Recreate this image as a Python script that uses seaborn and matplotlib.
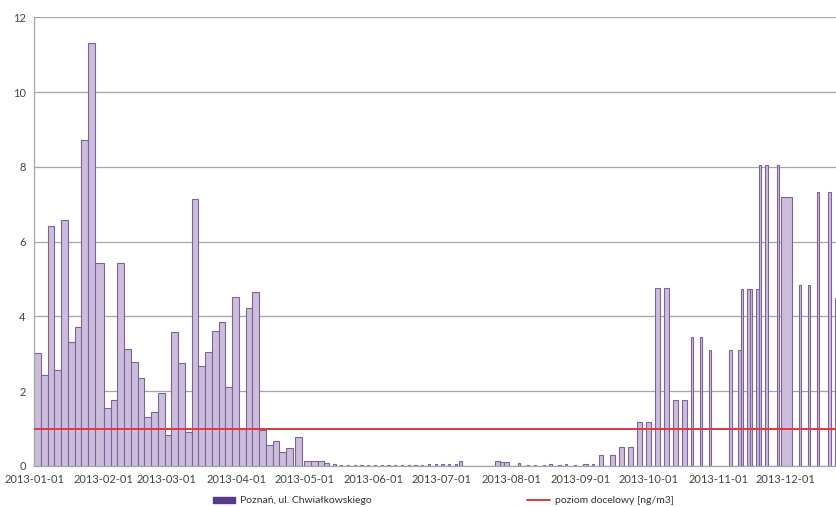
import pandas as pd
import matplotlib.pyplot as plt
import matplotlib.dates as mdates
from matplotlib.patches import Patch
from matplotlib.lines import Line2D
import seaborn as sns

# Benzo(a)piren w PM10 - Poznań, ul. Chwiałkowskiego, 2013
# start of each sample, its length in days, concentration [ng/m3]
sample_start = [
    "2013-01-01", "2013-01-04", "2013-01-07", "2013-01-10", "2013-01-13", "2013-01-16",
    "2013-01-19", "2013-01-22", "2013-01-25", "2013-01-28", "2013-02-01", "2013-02-04",
    "2013-02-07", "2013-02-10", "2013-02-13", "2013-02-16", "2013-02-19", "2013-02-22",
    "2013-02-25", "2013-02-28", "2013-03-03", "2013-03-06", "2013-03-09", "2013-03-12",
    "2013-03-15", "2013-03-18", "2013-03-21", "2013-03-24", "2013-03-27", "2013-03-30",
    "2013-04-02", "2013-04-05", "2013-04-08", "2013-04-11", "2013-04-14", "2013-04-17",
    "2013-04-20", "2013-04-23", "2013-04-27", "2013-05-01", "2013-05-04", "2013-05-07",
    "2013-05-10", "2013-05-14", "2013-05-17", "2013-05-20", "2013-05-23", "2013-05-26",
    "2013-05-29", "2013-06-01", "2013-06-04", "2013-06-07", "2013-06-10", "2013-06-13",
    "2013-06-16", "2013-06-19", "2013-06-22", "2013-06-25", "2013-06-28", "2013-07-01",
    "2013-07-04", "2013-07-07", "2013-07-09", "2013-07-25", "2013-07-27", "2013-07-29",
    "2013-08-04", "2013-08-08", "2013-08-11", "2013-08-15", "2013-08-18", "2013-08-22",
    "2013-08-25", "2013-08-29", "2013-09-02", "2013-09-06", "2013-09-09", "2013-09-14",
    "2013-09-18", "2013-09-22", "2013-09-26", "2013-09-30", "2013-10-04", "2013-10-08",
    "2013-10-12", "2013-10-16", "2013-10-20", "2013-10-24", "2013-10-28", "2013-11-06",
    "2013-11-10", "2013-11-11", "2013-11-14", "2013-11-15", "2013-11-18", "2013-11-19",
    "2013-11-22", "2013-11-27", "2013-11-29", "2013-12-07", "2013-12-11", "2013-12-15",
    "2013-12-20", "2013-12-23",
]
sample_days = [
    3, 3, 3, 3, 3, 3, 3, 3, 3, 4, 3, 3,
    3, 3, 3, 3, 3, 3, 3, 3, 3, 3, 3, 3,
    3, 3, 3, 3, 3, 3, 3, 3, 3, 3, 3, 3,
    3, 3, 3, 3, 3, 3, 2, 1, 1, 1, 1, 1,
    1, 1, 1, 1, 1, 1, 1, 1, 1, 1, 1, 1,
    1, 1, 1, 2, 2, 2, 1, 1, 1, 1, 1, 1,
    1, 1, 2, 1, 2, 2, 2, 2, 2, 2, 2, 2,
    2, 2, 1, 1, 1, 1, 1, 1, 1, 1, 1, 1,
    1, 1, 5, 1, 1, 1, 1, 1,
]
sample_value = [
    3.02, 2.43, 6.42, 2.57, 6.58, 3.32, 3.72, 8.72, 11.32, 5.43, 1.55, 1.77,
    5.43, 3.12, 2.78, 2.36, 1.31, 1.44, 1.96, 0.83, 3.58, 2.74, 0.92, 7.14,
    2.68, 3.04, 3.60, 3.86, 2.10, 4.52, 1.00, 4.22, 4.65, 0.95, 0.55, 0.66,
    0.38, 0.47, 0.77, 0.12, 0.14, 0.12, 0.08, 0.05, 0.03, 0.02, 0.03, 0.02,
    0.03, 0.02, 0.02, 0.03, 0.02, 0.02, 0.03, 0.02, 0.03, 0.04, 0.04, 0.05,
    0.06, 0.05, 0.14, 0.12, 0.11, 0.10, 0.07, 0.03, 0.03, 0.03, 0.04, 0.03,
    0.04, 0.03, 0.06, 0.06, 0.30, 0.30, 0.50, 0.50, 1.18, 1.18, 4.75, 4.75,
    1.76, 1.76, 3.45, 3.45, 3.10, 3.10, 3.10, 4.72, 4.72, 4.72, 4.72, 8.05,
    8.05, 8.05, 7.20, 4.83, 4.83, 7.33, 7.33, 4.50,
]
target_level = 1.0  # poziom docelowy [ng/m3]
month_ticks = pd.date_range("2013-01-01", "2013-12-01", freq="MS")

df = pd.DataFrame({"start": pd.to_datetime(sample_start),
                   "days": sample_days, "value": sample_value})

sns.set_theme(style="white")
plt.rcParams["font.family"] = ["Lato", "DejaVu Sans"]

fig = plt.figure(figsize=(8.36, 5.07), dpi=100)
ax = fig.add_axes([0.0407, 0.081, 0.9593, 0.885])

ax.bar(mdates.date2num(df["start"]), df["value"], width=df["days"], align="edge",
       color="#cdbddc", edgecolor="#7d6399", linewidth=0.8, zorder=2)
ax.axhline(target_level, color="#e0383c", linewidth=1.4, zorder=3)

ax.set_ylim(0, 12)
ax.set_yticks(range(0, 13, 2))
ax.yaxis.grid(True, color="#a6a6a6", linewidth=0.9)
ax.set_axisbelow(True)
x0 = mdates.date2num(pd.Timestamp("2013-01-01"))
ax.set_xlim(x0, x0 + 356.4)
ax.set_xticks(mdates.date2num(month_ticks))
ax.xaxis.set_major_formatter(mdates.DateFormatter("%Y-%m-%d"))
ax.tick_params(axis="both", labelsize=8, colors="#444444", length=4, width=0.8,
               direction="out", pad=2)
ax.tick_params(axis="both", color="#a6a6a6")

sns.despine(ax=ax, top=True, right=True)
for side in ["left", "bottom"]:
    ax.spines[side].set_color("#a6a6a6")
    ax.spines[side].set_linewidth(0.9)

handles = [Patch(facecolor="#573a8c", edgecolor="#573a8c"),
           Line2D([0], [0], color="#e0383c", linewidth=1.4)]
labels = ["Poznań, ul. Chwiałkowskiego", "poziom docelowy [ng/m3]"]
ax.legend(handles, labels, loc="center", bbox_to_anchor=(0.51, -0.078), ncol=2,
          frameon=False, fontsize=7.5, handlelength=2.2, handleheight=0.5,
          columnspacing=15, handletextpad=0.4, labelcolor="#333333")

fig.savefig("out.png", dpi=100)
